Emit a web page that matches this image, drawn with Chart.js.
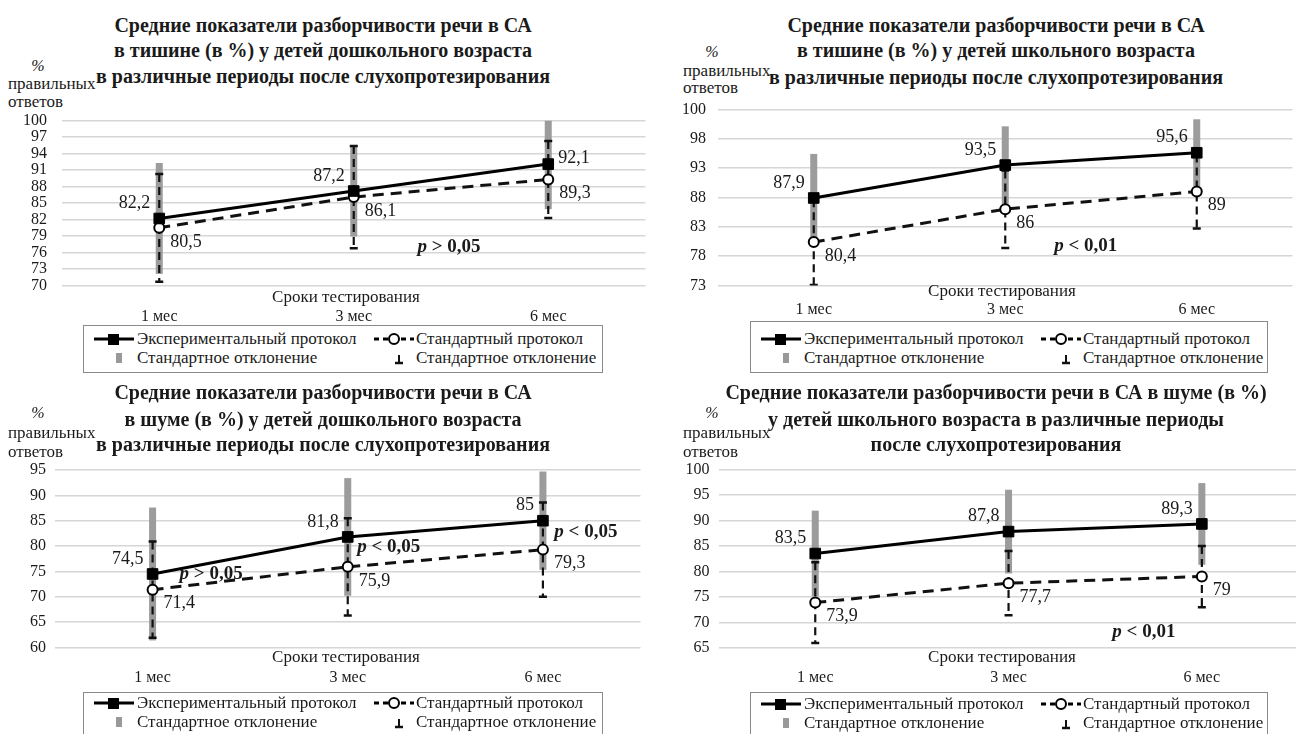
<!DOCTYPE html>
<html>
<head>
<meta charset="utf-8">
<script src="https://cdn.jsdelivr.net/npm/chart.js@4.4.0/dist/chart.umd.min.js"></script>
<style>
  body { margin: 0; background: #fff; width: 1296px; height: 734px; overflow: hidden; position: relative;
         font-family: "Liberation Serif", "Times New Roman", serif; color: #1a1a1a; }
  .panel { position: absolute; overflow: hidden; }
  .panel canvas { position: absolute; left: 0; top: 0; }
  .ttl, .ytl, .pct, .xtl, .leg span { font-family: "Liberation Serif", "Times New Roman", serif; }
  .ttl { position: absolute; font-weight: bold; font-size: 20px; white-space: nowrap; transform: translate(-50%, -50%); }
  .ytl { position: absolute; font-size: 17px; white-space: nowrap; transform: translateY(-50%); }
  .pct { position: absolute; font-size: 16px; font-style: italic; transform: translate(-50%, -50%); }
  .xtl { position: absolute; font-size: 17px; white-space: nowrap; transform: translate(-50%, -50%); }
  .leg { position: absolute; border: 1.5px solid #8a8a8a; background: #fff; box-sizing: border-box; }
  .leg span { position: absolute; font-size: 17px; white-space: nowrap; transform: translateY(-50%); }
  .leg svg { position: absolute; }
</style>
</head>
<body>
<script>
// categories
const categories = ['1 мес', '3 мес', '6 мес'];

// тишина, дошкольники
const quietPreschoolExp = [82.2, 87.2, 92.1];
const quietPreschoolStd = [80.5, 86.1, 89.3];
const quietPreschoolExpSd = [10.1, 8.3, 8.2];
const quietPreschoolStdSd = [9.8, 9.3, 7.0];
const quietPreschoolTicks = ['70', '73', '76', '79', '82', '85', '88', '91', '94', '97', '100'];

// тишина, школьники
const quietSchoolExp = [87.9, 93.5, 95.6];
const quietSchoolStd = [80.4, 86, 89];
const quietSchoolExpSd = [7.5, 6.6, 5.7];
const quietSchoolStdSd = [7.3, 6.6, 6.3];
const quietSchoolTicks = ['73', '78', '83', '88', '93', '98', '100'];

// шум, дошкольники
const noisePreschoolExp = [74.5, 81.8, 85];
const noisePreschoolStd = [71.4, 75.9, 79.3];
const noisePreschoolExpSd = [13.1, 11.6, 9.7];
const noisePreschoolStdSd = [9.5, 9.6, 9.3];
const noisePreschoolTicks = ['60', '65', '70', '75', '80', '85', '90', '95'];

// шум, школьники
const noiseSchoolExp = [83.5, 87.8, 89.3];
const noiseSchoolStd = [73.9, 77.7, 79];
const noiseSchoolExpSd = [8.4, 8.2, 8.0];
const noiseSchoolStdSd = [7.9, 6.3, 6.0];
const noiseSchoolTicks = ['65', '70', '75', '80', '85', '90', '95', '100'];

const expName = 'Экспериментальный протокол';
const stdName = 'Стандартный протокол';
const sdName = 'Стандартное отклонение';

Chart.defaults.font.family = '"Liberation Serif", "Times New Roman", serif';
Chart.defaults.color = '#1a1a1a';

// gray bars for exp SD, dashed black bars for std SD
const errorBars = {
  id: 'errorBars',
  beforeDatasetsDraw(chart) {
    const { ctx, chartArea: a, scales: { x, y } } = chart;
    const exp = chart.data.datasets[0];
    const std = chart.data.datasets[1];
    ctx.save();
    ctx.beginPath();
    ctx.rect(a.left, a.top, a.right - a.left, a.bottom - a.top);
    ctx.clip();
    exp.data.forEach((m, i) => {
      const px = x.getPixelForValue(i);
      const t = y.getPixelForValue(m + exp.sd[i]);
      const b = y.getPixelForValue(m - exp.sd[i]);
      ctx.fillStyle = '#9c9c9c';
      ctx.fillRect(px - 3.5, t, 7, b - t);
    });
    std.data.forEach((m, i) => {
      const px = x.getPixelForValue(i);
      const t = y.getPixelForValue(m + std.sd[i]);
      const b = y.getPixelForValue(m - std.sd[i]);
      ctx.strokeStyle = '#111';
      ctx.lineWidth = 2.2;
      ctx.setLineDash([8, 5]);
      ctx.beginPath();
      ctx.moveTo(px, t);
      ctx.lineTo(px, b);
      ctx.stroke();
      ctx.setLineDash([]);
      ctx.lineWidth = 2.5;
      ctx.beginPath();
      ctx.moveTo(px - 4, t); ctx.lineTo(px + 4, t);
      ctx.moveTo(px - 4, b); ctx.lineTo(px + 4, b);
      ctx.stroke();
    });
    ctx.restore();
  }
};

// value labels + p notes
const valueLabels = {
  id: 'valueLabels',
  afterDatasetsDraw(chart, args, opts) {
    const { ctx, scales: { x, y } } = chart;
    const [exp, std] = chart.data.datasets;
    ctx.save();
    ctx.fillStyle = '#1a1a1a';
    ctx.font = '18px "Liberation Serif"';
    ctx.textBaseline = 'middle';
    exp.data.forEach((v, i) => {
      const px = x.getPixelForValue(i), py = y.getPixelForValue(v);
      const txt = String(v).replace('.', ',');
      if (opts.expSide[i] === 'right') {
        ctx.textAlign = 'left';
        ctx.fillText(txt, px + 10, py - 6);
      } else {
        ctx.textAlign = 'right';
        ctx.fillText(txt, px - 9, py - 15);
      }
    });
    std.data.forEach((v, i) => {
      const px = x.getPixelForValue(i), py = y.getPixelForValue(v);
      ctx.textAlign = 'left';
      ctx.fillText(String(v).replace('.', ','), px + 11, py + 14);
    });
    opts.notes.forEach(n => {
      const px = x.getPixelForValue(n.at), py = y.getPixelForValue(n.value);
      ctx.font = 'italic bold 19px "Liberation Serif"';
      const w1 = ctx.measureText('p').width;
      ctx.font = 'bold 19px "Liberation Serif"';
      const w2 = ctx.measureText(n.text).width;
      const sx = px - (w1 + w2) / 2;
      ctx.textAlign = 'left';
      ctx.font = 'italic bold 19px "Liberation Serif"';
      ctx.fillText('p', sx, py);
      ctx.font = 'bold 19px "Liberation Serif"';
      ctx.fillText(n.text, sx + w1, py);
    });
    ctx.restore();
  }
};

function legendHtml(r1) {
  const r2 = r1 + 19;
  return `
    <svg style="left:10px;top:${r1 - 8}px" width="40" height="16"><line x1="0" y1="8" x2="40" y2="8" stroke="#000" stroke-width="3"/><rect x="14" y="3" width="11" height="11" fill="#000"/></svg>
    <span style="left:53px;top:${r1}px">${expName}</span>
    <svg style="left:290px;top:${r1 - 8}px" width="40" height="16"><line x1="0" y1="8" x2="40" y2="8" stroke="#000" stroke-width="3" stroke-dasharray="5,4"/><circle cx="20" cy="8" r="5" fill="#fff" stroke="#000" stroke-width="2"/></svg>
    <span style="left:332px;top:${r1}px">${stdName}</span>
    <svg style="left:31px;top:${r2 - 5}px" width="8" height="11"><rect x="1" y="0" width="6" height="10" fill="#999"/></svg>
    <span style="left:53px;top:${r2}px">${sdName}</span>
    <svg style="left:310px;top:${r2 - 4}px" width="10" height="11"><line x1="5" y1="1" x2="5" y2="9" stroke="#111" stroke-width="2"/><line x1="1" y1="9" x2="9" y2="9" stroke="#111" stroke-width="2.5"/></svg>
    <span style="left:332px;top:${r2}px">${sdName}</span>`;
}

function addDiv(parent, cls, html, css) {
  const d = document.createElement('div');
  d.className = cls;
  d.innerHTML = html;
  Object.assign(d.style, css);
  parent.appendChild(d);
  return d;
}

function makePanel(cfg) {
  const p = addDiv(document.body, 'panel', '', {
    left: cfg.box[0] + 'px', top: cfg.box[1] + 'px', width: cfg.box[2] + 'px', height: cfg.box[3] + 'px'
  });
  cfg.title.forEach((line, k) => {
    addDiv(p, 'ttl', line, { left: cfg.titleX + 'px', top: cfg.titleY[k] + 'px' });
  });
  addDiv(p, 'pct', '%', { left: cfg.pct[0] + 'px', top: cfg.pct[1] + 'px' });
  addDiv(p, 'ytl', 'правильных', { left: cfg.yTitle[0] + 'px', top: cfg.yTitle[1] + 'px' });
  addDiv(p, 'ytl', 'ответов', { left: cfg.yTitle[0] + 'px', top: cfg.yTitle[2] + 'px' });

  const canvas = document.createElement('canvas');
  const W = Math.ceil(cfg.plot.right), H = cfg.xTickY + 14;
  canvas.width = W; canvas.height = H;
  canvas.style.width = W + 'px'; canvas.style.height = H + 'px';
  p.appendChild(canvas);

  addDiv(p, 'xtl', 'Сроки тестирования', { left: cfg.xTitle[0] + 'px', top: cfg.xTitle[1] + 'px' });
  const [lx, ly, lw, r1] = cfg.legend;
  addDiv(p, 'leg', legendHtml(r1), {
    left: lx + 'px', top: ly + 'px', width: lw + 'px', height: (r1 + 35) + 'px'
  });

  new Chart(canvas, {
    type: 'line',
    data: {
      labels: categories,
      datasets: [{
        label: expName,
        data: cfg.exp,
        sd: cfg.expSd,
        borderColor: '#000',
        borderWidth: 3,
        pointStyle: 'rect',
        pointRadius: 7.5,
        pointBackgroundColor: '#000',
        pointBorderColor: '#000',
        pointBorderWidth: 1
      }, {
        label: stdName,
        data: cfg.std,
        sd: cfg.stdSd,
        borderColor: '#111',
        borderWidth: 3,
        borderDash: [11, 7],
        pointStyle: 'circle',
        pointRadius: 5,
        pointBackgroundColor: '#fff',
        pointBorderColor: '#000',
        pointBorderWidth: 2
      }]
    },
    options: {
      responsive: false,
      animation: false,
      layout: { padding: { top: cfg.plot.top, left: 0, right: 0, bottom: 0 } },
      plugins: {
        legend: { display: false },
        title: { display: false },
        tooltip: { enabled: false },
        valueLabels: { expSide: cfg.expSide, notes: cfg.notes }
      },
      scales: {
        x: {
          offset: true,
          grid: { display: false, drawTicks: false },
          border: { display: false },
          ticks: { font: { size: 16 }, color: '#1a1a1a', padding: cfg.xTickY - cfg.plot.bottom - 8 },
          afterFit(s) { s.height = H - cfg.plot.bottom; }
        },
        y: {
          min: cfg.yMin,
          max: cfg.yMax,
          grid: { color: '#d6d6d6', lineWidth: 1.6, drawTicks: false },
          border: { display: false },
          ticks: {
            stepSize: cfg.yStep,
            autoSkip: false,
            font: { size: 16 },
            color: '#1a1a1a',
            padding: cfg.yPad,
            callback: (v, i) => cfg.ticks[i]
          },
          afterFit(s) { s.width = cfg.plot.left; }
        }
      }
    },
    plugins: [errorBars, valueLabels]
  });
}

makePanel({
  box: [0, 0, 648, 376],
  title: ['Средние показатели разборчивости речи в СА',
          'в тишине (в %) у детей дошкольного возраста',
          'в различные периоды после слухопротезирования'],
  titleX: 323, titleY: [25, 50, 76],
  pct: [38, 66], yTitle: [8, 84, 102],
  plot: { left: 62, right: 654, top: 120.7, bottom: 285.5 },
  xTickY: 315, xTitle: [346, 297], legend: [83, 325, 520, 13],
  yMin: 70, yMax: 100, yStep: 3, yPad: 15, ticks: quietPreschoolTicks,
  exp: quietPreschoolExp, std: quietPreschoolStd, expSd: quietPreschoolExpSd, stdSd: quietPreschoolStdSd,
  expSide: ['left', 'left', 'right'],
  notes: [{ text: ' > 0,05', at: 1.49, value: 77 }]
});

makePanel({
  box: [648, 0, 648, 376],
  title: ['Средние показатели разборчивости речи в СА',
          'в тишине (в %) у детей школьного возраста',
          'в различные периоды после слухопротезирования'],
  titleX: 348, titleY: [25, 50, 77],
  pct: [64, 52], yTitle: [35, 71, 88],
  plot: { left: 70, right: 653, top: 109.3, bottom: 285.5 },
  xTickY: 308, xTitle: [354, 291], legend: [102, 321, 518, 17],
  yMin: 73, yMax: 103, yStep: 5, yPad: 12, ticks: quietSchoolTicks,
  exp: quietSchoolExp, std: quietSchoolStd, expSd: quietSchoolExpSd, stdSd: quietSchoolStdSd,
  expSide: ['left', 'left', 'left'],
  notes: [{ text: ' < 0,01', at: 1.42, value: 79.7 }]
});

makePanel({
  box: [0, 376, 648, 358],
  title: ['Средние показатели разборчивости речи в СА',
          'в шуме (в %) у детей дошкольного возраста',
          'в различные периоды после слухопротезирования'],
  titleX: 323, titleY: [16, 43, 68],
  pct: [38, 37], yTitle: [8, 57, 76],
  plot: { left: 55, right: 649, top: 94, bottom: 271.5 },
  xTickY: 300, xTitle: [346, 281], legend: [83, 316, 520, 10],
  yMin: 60, yMax: 95, yStep: 5, yPad: 9, ticks: noisePreschoolTicks,
  exp: noisePreschoolExp, std: noisePreschoolStd, expSd: noisePreschoolExpSd, stdSd: noisePreschoolStdSd,
  expSide: ['left', 'left', 'left'],
  notes: [{ text: ' > 0,05', at: 0.3, value: 74.4 },
          { text: ' < 0,05', at: 1.21, value: 79.7 },
          { text: ' < 0,05', at: 2.22, value: 82.7 }]
});

makePanel({
  box: [648, 376, 648, 358],
  title: ['Средние показатели разборчивости речи в СА в шуме (в %)',
          'у детей школьного возраста в различные периоды',
          'после слухопротезирования'],
  titleX: 348, titleY: [16, 43, 68],
  pct: [64, 37], yTitle: [35, 57, 76],
  plot: { left: 70.6, right: 658.6, top: 93.3, bottom: 272 },
  xTickY: 300, xTitle: [354, 281], legend: [102, 316, 518, 11],
  yMin: 65, yMax: 100, yStep: 5, yPad: 9, ticks: noiseSchoolTicks,
  exp: noiseSchoolExp, std: noiseSchoolStd, expSd: noiseSchoolExpSd, stdSd: noiseSchoolStdSd,
  expSide: ['left', 'left', 'left'],
  notes: [{ text: ' < 0,01', at: 1.7, value: 68.1 }]
});
</script>
</body>
</html>
